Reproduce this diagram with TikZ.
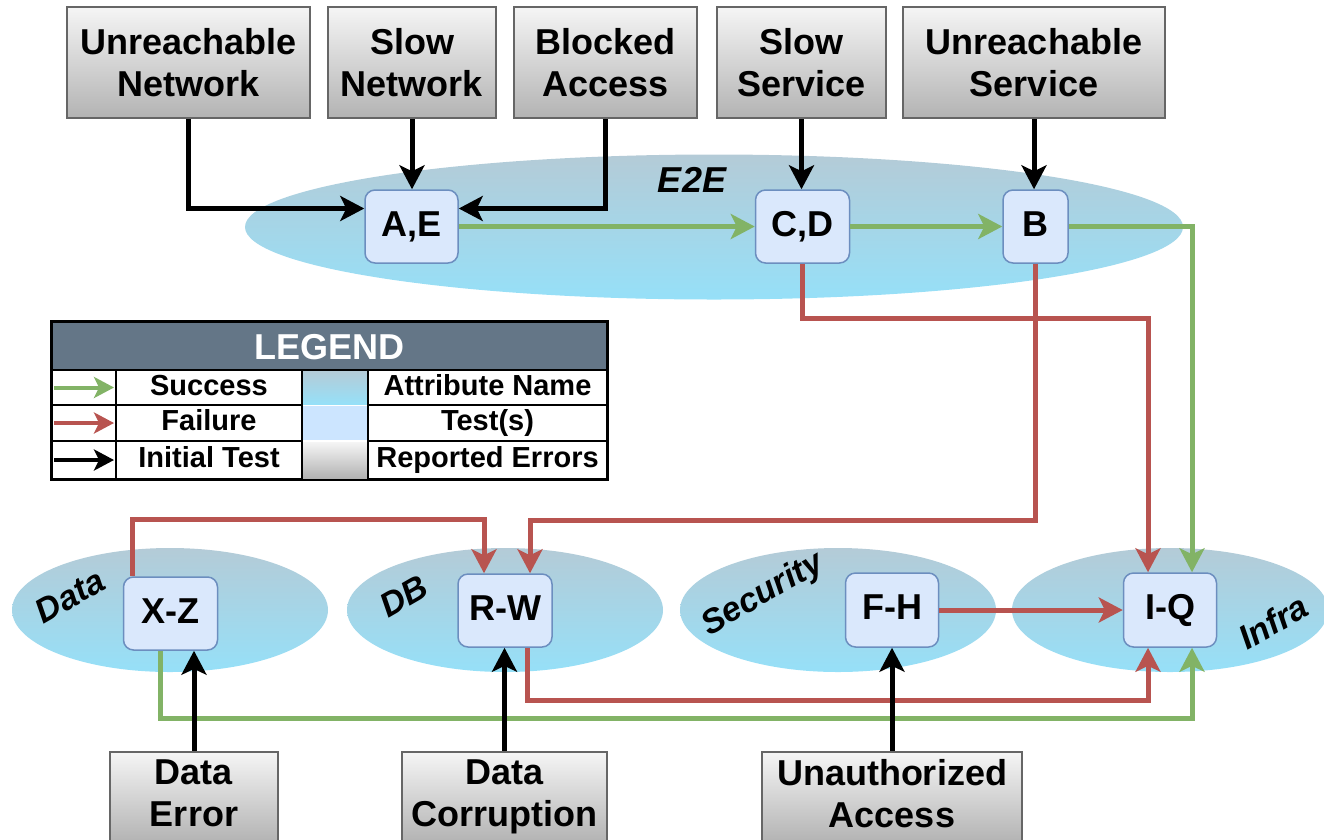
\documentclass[tikz,border=0pt]{standalone}
\usepackage{fontspec}
\setmainfont{Liberation Sans}
\usetikzlibrary{shapes.geometric,arrows.meta}

\definecolor{okgreen}{HTML}{82B366}
\definecolor{failred}{HTML}{B85450}
\definecolor{errtop}{HTML}{F5F5F5}
\definecolor{errbot}{HTML}{B3B3B3}
\definecolor{errline}{HTML}{666666}
\definecolor{testfill}{HTML}{DAE8FC}
\definecolor{testline}{HTML}{6C8EBF}
\definecolor{attrtop}{RGB}{180,203,215}
\definecolor{attrbot}{RGB}{150,224,248}
\definecolor{legendhead}{HTML}{647687}
\definecolor{legendtest}{HTML}{CCE5FF}

\newcommand\bxfont{\fontsize{36}{42}\selectfont\bfseries}
\newcommand\lgfont{\fontsize{29}{34}\selectfont\bfseries}
\newcommand\atfont{\fontsize{34}{38}\selectfont\bfseries\itshape}

\begin{document}
\begin{tikzpicture}[x=1pt,y=-1pt,
  tip/.style={-{Stealth[length=24pt,width=25pt,inset=6pt]}},
  smalltip/.style={-{Stealth[length=20pt,width=21pt,inset=5pt]}},
  errbox/.style={draw=errline,line width=2.5pt,top color=errtop,bottom color=errbot,
    minimum height=111pt,inner sep=0pt,align=center,font=\bxfont},
  testbox/.style={draw=testline,line width=1.5pt,fill=testfill,rounded corners=10pt,
    minimum height=73pt,inner sep=0pt,font=\bxfont,text height=26pt,text depth=7pt},
  attr/.style={ellipse,top color=attrtop,bottom color=attrbot,inner sep=0pt},
  attrname/.style={font=\atfont,inner sep=0pt},
  okline/.style={tip,draw=okgreen,line width=5pt},
  failline/.style={tip,draw=failred,line width=5pt},
  initline/.style={tip,draw=black,line width=5pt},
  cell/.style={draw=black,line width=2pt,inner sep=0pt,font=\lgfont,
    text height=21pt,text depth=6pt},
]
\useasboundingbox (0,0) rectangle (1324,839);

% attribute ellipses
\node[attr,minimum width=938pt,minimum height=145pt] (e2e) at (714,227) {};
\node[attr,minimum width=316pt,minimum height=124pt] (data) at (170,610) {};
\node[attr,minimum width=316pt,minimum height=124pt] (db) at (505,610) {};
\node[attr,minimum width=316pt,minimum height=124pt] (sec) at (838,610) {};
\node[attr,minimum width=316pt,minimum height=124pt] (infra) at (1170,610) {};

\node[attrname,font=\fontsize{36}{40}\selectfont\bfseries\itshape] (e2elbl) at (692,180) {E2E};
\node[attrname,rotate=30] (datalbl) at (70,596) {Data};
\node[attrname,rotate=30] (dblbl) at (404,596) {DB};
\node[attrname,rotate=30] (seclbl) at (763,595) {Security};
\node[attrname,rotate=30] (infralbl) at (1273,622) {Infra};

% reported errors
\node[errbox,minimum width=243pt] (un) at (188.5,62.5) {Unreachable\\Network};
\node[errbox,minimum width=168pt] (sn) at (412,62.5) {Slow\\Network};
\node[errbox,minimum width=183pt] (ba) at (605.5,62.5) {Blocked\\Access};
\node[errbox,minimum width=169pt] (ss) at (801.5,62.5) {Slow\\Service};
\node[errbox,minimum width=262pt] (us) at (1034,62.5) {Unreachable\\Service};
\node[errbox,minimum width=168pt,minimum height=90pt] (de) at (194,797) {Data\\Error\vphantom{p}};
\node[errbox,minimum width=205pt,minimum height=90pt] (dc) at (504.5,797) {Data\\Corruption};
\node[errbox,minimum width=260pt,minimum height=90pt] (ua) at (892,797) {Unauthorized\\Access\vphantom{p}};

% tests
\node[testbox,minimum width=93pt] (ae) at (411.5,226.5) {A,E};
\node[testbox,minimum width=94pt] (cd) at (802.5,226.5) {C,D};
\node[testbox,minimum width=65pt] (b) at (1035.5,226.5) {B};
\node[testbox,minimum width=94pt] (xz) at (170.5,613.5) {X-Z};
\node[testbox,minimum width=94pt] (rw) at (505,610.5) {R-W};
\node[testbox,minimum width=93pt,minimum height=74pt] (fh) at (892,610) {F-H};
\node[testbox,minimum width=93pt,minimum height=74pt] (iq) at (1170,610) {I-Q};

% success paths
\draw[okline] (ae.east) -- (cd.west);
\draw[okline] (cd.east) -- (b.west);
\draw[okline] (b.east) -| ([xshift=22pt]iq.north);
\draw[okline] ([xshift=-10pt]xz.south) -- ++(0,68) -| ([xshift=22pt]iq.south);

% failure paths
\draw[failline] (cd.south) -- ++(0,55) -| ([xshift=-22pt]iq.north);
\draw[failline] (b.south) -- ++(0,257) -| ([xshift=25pt]rw.north);
\draw[failline] ([xshift=-38pt]xz.north) -- ++(0,-57) -| ([xshift=-21pt]rw.north);
\draw[failline] (fh.east) -- (iq.west);
\draw[failline] ([xshift=22pt]rw.south) -- ++(0,53) -| ([xshift=-22pt]iq.south);

% initial tests
\draw[initline] (un.south) |- ([yshift=18pt]ae.west);
\draw[initline] (sn.south) -- (sn.south |- ae.north);
\draw[initline] (ba.south) |- ([yshift=18pt]ae.east);
\draw[initline] (ss.south) -- (ss.south |- cd.north);
\draw[initline] (us.south) -- (us.south |- b.north);
\draw[initline] (de.north) -- (de.north |- xz.south);
\draw[initline] (dc.north) -- (dc.north |- rw.south);
\draw[initline] (ua.north) -- (ua.north |- fh.south);

% legend
\node[cell,fill=legendhead,minimum width=555pt,minimum height=48pt,
  text=white,font=\fontsize{36}{40}\selectfont\bfseries,text height=26pt,text depth=0pt] (lghead) at (329.5,346) {LEGEND};
\node[cell,minimum width=64pt,minimum height=35pt] (a1) at (84,387.5) {};
\node[cell,minimum width=64pt,minimum height=36pt] (a2) at (84,423) {};
\node[cell,minimum width=64pt,minimum height=38pt] (a3) at (84,460) {};
\node[cell,minimum width=186pt,minimum height=35pt] (t1) at (209,387.5) {Success};
\node[cell,minimum width=186pt,minimum height=36pt] (t2) at (209,423) {Failure};
\node[cell,minimum width=186pt,minimum height=38pt] (t3) at (209,460) {Initial Test};
\node[cell,draw=none,top color=attrtop,bottom color=attrbot,minimum width=64pt,minimum height=33pt] (s1) at (335,387.5) {};
\node[cell,draw=none,fill=legendtest,minimum width=64pt,minimum height=34pt] (s2) at (335,423) {};
\node[cell,draw=none,top color=errtop,bottom color=errbot,minimum width=64pt,minimum height=36pt] (s3) at (335,460) {};
\node[cell,minimum width=239pt,minimum height=35pt] (n1) at (487.5,387.5) {Attribute Name};
\node[cell,minimum width=239pt,minimum height=36pt] (n2) at (487.5,423) {Test(s)};
\node[cell,minimum width=239pt,minimum height=38pt] (n3) at (487.5,460) {Reported Errors};
\draw[okline,smalltip,line width=4pt] ([xshift=3pt]a1.west) -- ([xshift=-3pt]a1.east);
\draw[failline,smalltip,line width=4pt] ([xshift=3pt]a2.west) -- ([xshift=-3pt]a2.east);
\draw[initline,smalltip,line width=4pt] ([xshift=3pt]a3.west) -- ([xshift=-3pt]a3.east);
\draw[line width=2pt] (lghead.north west) rectangle (n3.south east);
\end{tikzpicture}
\end{document}
